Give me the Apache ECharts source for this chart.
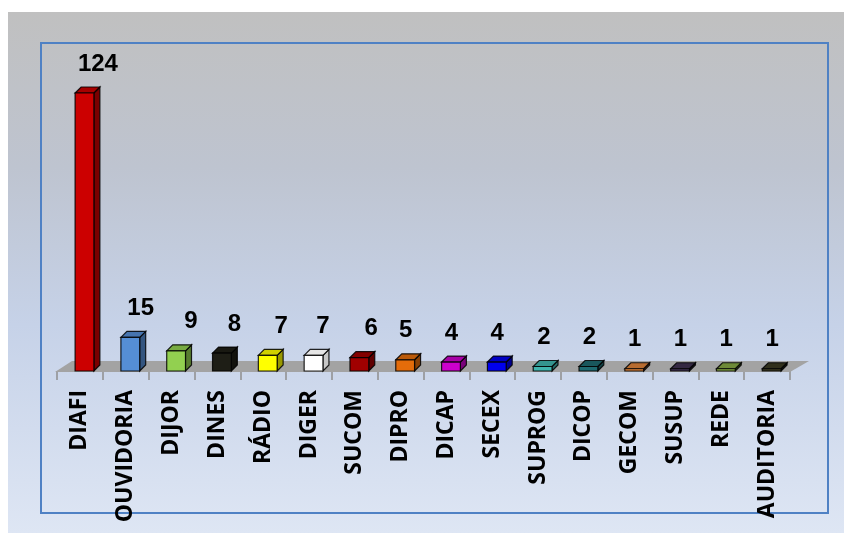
<!DOCTYPE html>
<html>
<head>
<meta charset="utf-8">
<title>Demandas por setor</title>
<script src="https://cdn.jsdelivr.net/npm/echarts@6/dist/echarts.min.js"></script>
<style>
  html, body { margin: 0; padding: 0; background: #ffffff; }
  #chart { width: 844px; height: 533px; }
</style>
</head>
<body>
<div id="chart"></div>
<script>
// Setores e quantidade de demandas
var categories = ['DIAFI', 'OUVIDORIA', 'DIJOR', 'DINES', 'RÁDIO', 'DIGER', 'SUCOM', 'DIPRO',
                  'DICAP', 'SECEX', 'SUPROG', 'DICOP', 'GECOM', 'SUSUP', 'REDE', 'AUDITORIA'];
var values = [124, 15, 9, 8, 7, 7, 6, 5, 4, 4, 2, 2, 1, 1, 1, 1];

// Cor de cada barra
var barColors = ['#cc0000', '#558ed5', '#92d050', '#1e1e16', '#ffff00', '#ffffff', '#a00000', '#e46c0a',
                 '#cc00cc', '#0000ee', '#40b4ae', '#1f6a70', '#e0843a', '#3f3151', '#86a844', '#3c3a22'];
// Deslocamento horizontal dos rótulos de valor (px, a partir do centro da categoria)
var labelShift = [18, 15, 19.5, 17, 18, 14, 16.5, 5, 5, 5, 6, 5.5, 5, 5, 5, 5];

var DEPTH_X = 6, DEPTH_Y = 6;

// Escurece uma cor multiplicando os canais RGB por k (0..1)
function shade(color, k) {
  var rgb = echarts.color.parse(color);
  return 'rgb(' + Math.round(rgb[0] * k) + ',' + Math.round(rgb[1] * k) + ',' + Math.round(rgb[2] * k) + ')';
}

function renderBar(params, api) {
  var idx = api.value(0);
  var val = api.value(1);
  var base = api.coord([idx, 0]);
  var top = api.coord([idx, val]);
  var band = api.size([1, 0])[0];
  var w = band * 0.41;
  var cx = base[0] + band * 0.1;
  var x0 = cx - w / 2, x1 = x0 + w;
  var yT = top[1], yB = base[1];
  var c = barColors[idx];
  var edge = { stroke: 'rgba(0,0,0,0.85)', lineWidth: 1.2 };
  return {
    type: 'group',
    children: [
      { type: 'polygon',
        shape: { points: [[x1, yT], [x1 + DEPTH_X, yT - DEPTH_Y], [x1 + DEPTH_X, yB - DEPTH_Y], [x1, yB]] },
        style: Object.assign({ fill: shade(c, idx === 5 ? 0.78 : 0.6) }, edge) },
      { type: 'polygon',
        shape: { points: [[x0, yT], [x0 + DEPTH_X, yT - DEPTH_Y], [x1 + DEPTH_X, yT - DEPTH_Y], [x1, yT]] },
        style: Object.assign({ fill: shade(c, idx === 5 ? 0.9 : 0.82) }, edge) },
      { type: 'rect',
        shape: { x: x0, y: yT, width: w, height: yB - yT },
        style: Object.assign({ fill: c }, edge) },
      { type: 'text',
        style: {
          x: base[0] + labelShift[idx], y: yT - 29,
          text: String(val), align: 'center', verticalAlign: 'middle',
          fill: '#000000', font: 'bold 24px "Liberation Sans", Arial, sans-serif'
        } }
    ]
  };
}

function renderFloor(params, api) {
  var cs = params.coordSys;
  var y0 = api.coord([0, 0])[1];
  return {
    type: 'polygon',
    shape: { points: [[cs.x - 2, y0 + 1], [cs.x + cs.width, y0 + 1],
                      [cs.x + cs.width + 19, y0 - 10], [cs.x + 15, y0 - 10]] },
    style: { fill: '#a3a3a3' }
  };
}

var chart = echarts.init(document.getElementById('chart'), null, { renderer: 'canvas' });

chart.setOption({
  animation: false,
  backgroundColor: '#ffffff',
  graphic: [
    { type: 'rect', z: -10, silent: true,
      shape: { x: 8, y: 12, width: 836, height: 521 },
      style: { fill: new echarts.graphic.LinearGradient(0, 0, 0, 1, [
        { offset: 0, color: '#c0c0c0' },
        { offset: 0.3, color: '#bec4d0' },
        { offset: 0.6, color: '#c6d2e8' },
        { offset: 1, color: '#dee6f4' }
      ]) } },
    { type: 'rect', z: -5, silent: true,
      shape: { x: 41, y: 43, width: 787, height: 470 },
      style: { fill: null, stroke: '#4f81c4', lineWidth: 2 } }
  ],
  grid: { left: 57, right: 54, top: 93, bottom: 162, containLabel: false },
  xAxis: {
    type: 'category',
    data: categories,
    axisLine: { show: false },
    axisTick: { show: true, length: 9, lineStyle: { color: '#8e8e8e', width: 1.5 } },
    axisLabel: {
      interval: 0, rotate: 90, margin: 19,
      color: '#000000', fontFamily: '"Open Sans", sans-serif', fontWeight: 'bold', fontSize: 23
    },
    splitLine: { show: false }
  },
  yAxis: {
    type: 'value', min: 0, max: 124,
    show: false, splitLine: { show: false }
  },
  series: [
    { type: 'custom', z: 1, renderItem: renderFloor, data: [[0]], silent: true },
    { type: 'custom', z: 2, renderItem: renderBar,
      data: values.map(function (v, i) { return [i, v]; }) }
  ]
});
</script>
</body>
</html>
